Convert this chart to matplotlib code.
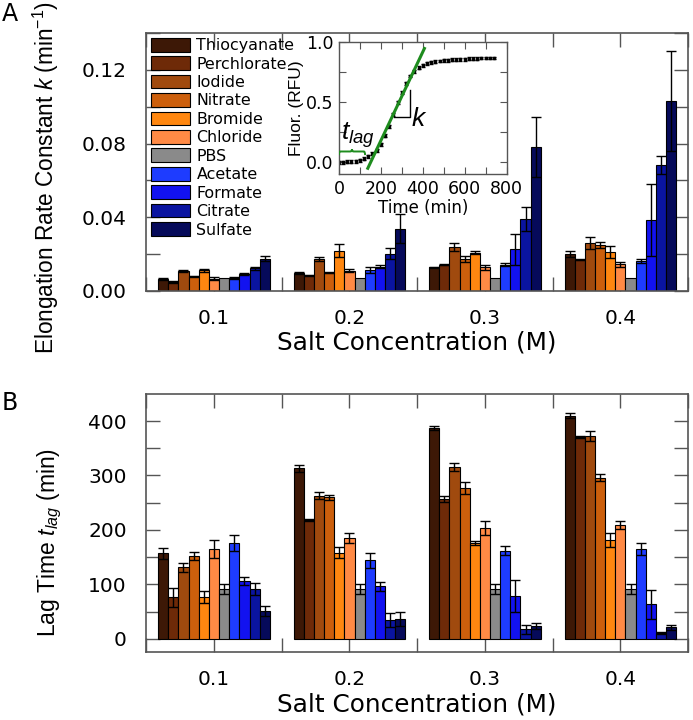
import numpy as np
import matplotlib
matplotlib.use("Agg")
import matplotlib.pyplot as plt
from matplotlib.patches import Patch
from matplotlib.path import Path
from matplotlib.patches import PathPatch

plt.rcParams['font.family'] = ['DejaVu Sans']
plt.rcParams['mathtext.fontset'] = 'custom'
plt.rcParams['mathtext.it'] = 'Liberation Sans:italic'
plt.rcParams['mathtext.rm'] = 'Liberation Sans'

# Salts and colours
salts = ['Thiocyanate', 'Perchlorate', 'Iodide', 'Nitrate', 'Bromide', 'Chloride',
         'PBS', 'Acetate', 'Formate', 'Citrate', 'Sulfate']
colors = ['#3d1806', '#6e2a08', '#a04a0e', '#cc5f0c', '#ff8710', '#ff8a45',
          '#8a8a8a', '#1e3cff', '#1212f0', '#0a14a0', '#060a5a']
conc = [0.1, 0.2, 0.3, 0.4]

# Panel A: elongation rate constant k (min^-1), rows = salts, cols = concentrations
k_vals = [
    [0.0064, 0.0099, 0.0128, 0.0200],
    [0.0048, 0.0084, 0.0143, 0.0170],
    [0.0110, 0.0174, 0.0238, 0.0258],
    [0.0079, 0.0099, 0.0174, 0.0250],
    [0.0113, 0.0219, 0.0208, 0.0212],
    [0.0066, 0.0110, 0.0128, 0.0144],
    [0.0069, 0.0069, 0.0069, 0.0072],
    [0.0069, 0.0113, 0.0143, 0.0160],
    [0.0091, 0.0132, 0.0225, 0.0386],
    [0.0124, 0.0201, 0.0389, 0.0685],
    [0.0174, 0.0338, 0.0782, 0.1032],
]
k_err = [
    [0.0004, 0.0005, 0.0004, 0.0015],
    [0.0003, 0.0003, 0.0005, 0.0003],
    [0.0005, 0.0009, 0.0024, 0.0032],
    [0.0004, 0.0004, 0.0015, 0.0016],
    [0.0008, 0.0033, 0.0008, 0.0031],
    [0.0008, 0.0008, 0.0015, 0.0013],
    [0.0000, 0.0000, 0.0000, 0.0000],
    [0.0004, 0.0018, 0.0009, 0.0011],
    [0.0004, 0.0007, 0.0082, 0.0195],
    [0.0008, 0.0030, 0.0064, 0.0048],
    [0.0013, 0.0079, 0.0161, 0.0270],
]

# Panel B: lag time (min)
lag_vals = [
    [157, 313, 387, 410],
    [76, 218, 257, 370],
    [131, 263, 316, 372],
    [152, 260, 277, 296],
    [77, 158, 176, 181],
    [165, 185, 203, 209],
    [92, 92, 92, 92],
    [176, 144, 162, 165],
    [106, 96, 79, 63],
    [91, 34, 17, 10],
    [51, 37, 23, 21],
]
lag_err = [
    [10, 7, 3, 5],
    [17, 2, 6, 2],
    [9, 6, 7, 9],
    [8, 5, 11, 6],
    [11, 10, 3, 13],
    [17, 9, 13, 8],
    [9, 9, 9, 9],
    [14, 14, 8, 11],
    [8, 9, 29, 27],
    [11, 13, 8, 2],
    [9, 13, 5, 5],
]

# Inset: example aggregation kinetics
t_min = [0, 20, 40, 60, 80, 100, 120, 140, 160, 180, 200, 220, 240, 260, 280, 300,
         320, 340, 360, 380, 400, 420, 440, 460, 480, 500, 520, 540, 560, 580, 600,
         620, 640, 660, 680, 700, 720, 740]
fluor = [0.00, 0.00, 0.005, 0.005, 0.01, 0.015, 0.03, 0.05, 0.07, 0.10, 0.15, 0.22,
         0.30, 0.40, 0.50, 0.58, 0.66, 0.72, 0.76, 0.79, 0.81, 0.825, 0.835, 0.84,
         0.845, 0.85, 0.85, 0.855, 0.855, 0.86, 0.86, 0.865, 0.865, 0.865, 0.87,
         0.87, 0.87, 0.87]
fluor_err = 0.012
fit_t = [138, 408]
fit_f = [-0.05, 0.95]

width = 0.0075
spine_col = '#555555'
green = '#1e8c1e'


def style_axes(ax, ylim, ymaj, ylabels):
    ax.set_xlim(0.05, 0.45)
    ax.set_ylim(*ylim)
    ax.set_xticks(np.arange(0.05, 0.451, 0.05))
    ax.set_xticklabels(['', '0.1', '', '0.2', '', '0.3', '', '0.4', ''])
    ax.set_yticks(ymaj)
    ax.set_yticklabels(ylabels)
    ax.tick_params(direction='in', top=True, right=True, length=10, width=1,
                   color=spine_col, labelsize=14.5)
    ax.tick_params(axis='x', pad=13)
    ax.tick_params(axis='y', pad=14)
    for s in ax.spines.values():
        s.set_color(spine_col)
        s.set_linewidth(1.2)


def draw_bars(ax, vals, errs):
    for i, (name, c) in enumerate(zip(salts, colors)):
        x = np.array(conc) + (i - 5) * width
        ax.bar(x, vals[i], width, color=c, edgecolor='black', linewidth=0.8, zorder=2)
        if any(e > 0 for e in errs[i]):
            ax.errorbar(x, vals[i], yerr=errs[i], fmt='none', ecolor='black',
                        elinewidth=1, capsize=3.5, capthick=1, zorder=3)


fig = plt.figure(figsize=(6.93, 7.2), dpi=100)
axA = fig.add_axes([0.211, 0.596, 0.782, 0.358])
axB = fig.add_axes([0.211, 0.094, 0.782, 0.359])

draw_bars(axA, k_vals, k_err)
yA = np.arange(0, 0.141, 0.02)
style_axes(axA, (0, 0.14), yA, ['0.00', '', '0.04', '', '0.08', '', '0.12', ''])
axA.set_xlabel('Salt Concentration (M)', fontsize=17.8, labelpad=2)
axA.set_ylabel('Elongation Rate Constant $k$ (min$^{-1}$)', fontsize=16.3,
               family='Liberation Sans')
axA.yaxis.set_label_coords(-0.158, 0.44)

handles = [Patch(facecolor=c, edgecolor='black', linewidth=0.8) for c in colors]
axA.legend(handles, salts, loc='upper left', frameon=False, fontsize=11.4,
           handlelength=2.47, handleheight=0.95, labelspacing=0.2,
           handletextpad=0.4, borderaxespad=0.2, borderpad=0.1)

draw_bars(axB, lag_vals, lag_err)
yB = np.arange(0, 401, 50)
style_axes(axB, (-25, 450), yB, ['0', '', '100', '', '200', '', '300', '', '400'])
axB.set_xlabel('Salt Concentration (M)', fontsize=17.8, labelpad=2)
axB.set_ylabel('Lag Time $t_{lag}$ (min)', fontsize=16.5, family='Liberation Sans')
axB.yaxis.set_label_coords(-0.152, 0.426)

fig.text(0.002, 0.981, 'A', fontsize=17, va='center', ha='left')
fig.text(0.002, 0.44, 'B', fontsize=17, va='center', ha='left')

# Inset
axI = fig.add_axes([0.489, 0.758, 0.242, 0.183])
axI.errorbar(t_min, fluor, yerr=fluor_err, fmt='s', color='black', ms=1.8,
             elinewidth=0.8, capsize=1.2, zorder=2)
axI.plot(fit_t, fit_f, color=green, lw=2.2, zorder=3)
axI.plot([265, 337, 337], [0.38, 0.38, 0.60], color='black', lw=1)
axI.text(384, 0.36, '$k$', fontsize=19, ha='center', va='center')
axI.text(12, 0.23, '$t_{lag}$', fontsize=19, ha='left', va='center')

# curly brace over the lag phase
x0, x1, yb, h = 0, 125, 0.06, 0.05
xm = (x0 + x1) / 2
verts = [(x0, yb), (x0, yb + h * 0.6), (x0 + 6, yb + h * 0.6), (xm - 8, yb + h * 0.6),
         (xm, yb + h * 0.6), (xm, yb + h), (xm, yb + h),
         (xm, yb + h * 0.6), (xm + 8, yb + h * 0.6), (x1 - 6, yb + h * 0.6),
         (x1, yb + h * 0.6), (x1, yb)]
codes = [Path.MOVETO, Path.CURVE3, Path.CURVE3, Path.LINETO,
         Path.CURVE3, Path.CURVE3, Path.MOVETO,
         Path.CURVE3, Path.CURVE3, Path.LINETO,
         Path.CURVE3, Path.CURVE3]
axI.add_patch(PathPatch(Path(verts, codes), facecolor='none', edgecolor=green,
                        lw=1.4, zorder=4))

axI.set_xlim(0, 800)
axI.set_ylim(-0.1, 1.0)
axI.set_xticks(np.arange(0, 801, 100))
axI.set_xticklabels(['0', '', '200', '', '400', '', '600', '', '800'])
axI.set_yticks([0, 0.25, 0.5, 0.75, 1.0])
axI.set_yticklabels(['0.0', '', '0.5', '', '1.0'])
axI.tick_params(direction='in', top=True, right=True, length=5, width=0.8,
                color=spine_col, labelsize=12.5, pad=4)
axI.set_xlabel('Time (min)', fontsize=12, labelpad=1)
axI.set_ylabel('Fluor. (RFU)', fontsize=12.5, labelpad=1, family='Liberation Sans')
for s in axI.spines.values():
    s.set_color(spine_col)
    s.set_linewidth(1)

fig.savefig('out.png', dpi=100)
